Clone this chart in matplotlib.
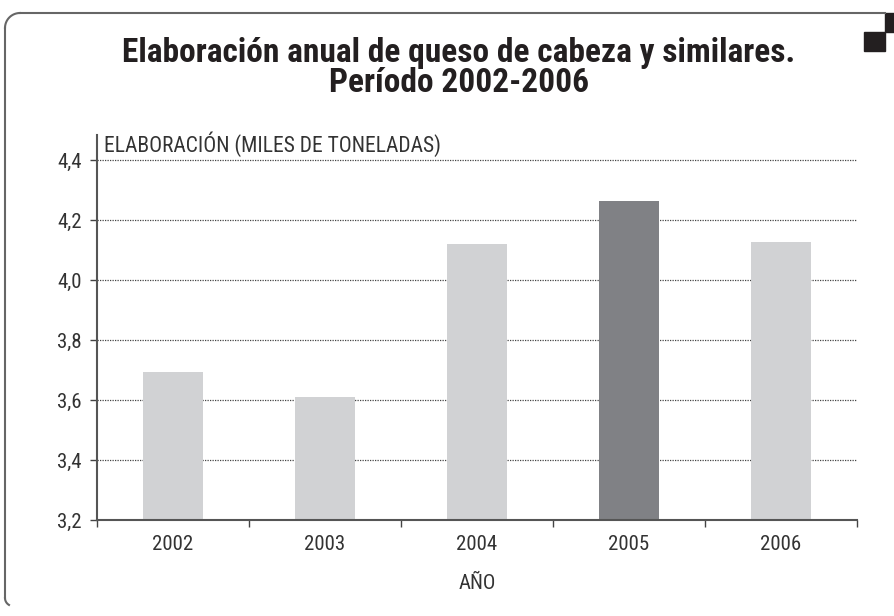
import matplotlib
matplotlib.use("Agg")
import matplotlib.pyplot as plt
import numpy as np
from matplotlib import font_manager
from matplotlib.patches import Rectangle

# datos
anios = ["2002", "2003", "2004", "2005", "2006"]
elaboracion = [3.693, 3.610, 4.120, 4.263, 4.127]
colores = ["#d1d2d4", "#d1d2d4", "#d1d2d4", "#808185", "#d1d2d4"]
yticks = [3.2, 3.4, 3.6, 3.8, 4.0, 4.2, 4.4]

# fuente angosta (tipo Helvetica Condensed)
nombres = {f.name for f in font_manager.fontManager.ttflist}
fuente = "Liberation Sans"
for cand in ["Roboto Condensed", "Archivo Narrow", "Barlow Condensed", "Asap Condensed"]:
    if cand in nombres:
        fuente = cand
        break
plt.rcParams["font.family"] = [fuente, "DejaVu Sans"]

gris = "#333333"
fig = plt.figure(figsize=(8.94, 6.16), dpi=100)

def fx(px):
    return px / 894

def fy(py):
    return 1 - py / 616

# marco del recuadro
borde = "#666666"
fig.add_artist(plt.Line2D([fx(5), fx(5)], [fy(28), fy(598)], color=borde, lw=1.5))
fig.add_artist(plt.Line2D([fx(20), fx(885)], [fy(13), fy(13)], color=borde, lw=1.5))
t = np.linspace(0, np.pi/2, 20)
fig.add_artist(plt.Line2D(fx(20 - 15*np.cos(t)), fy(28 - 15*np.sin(t)), color=borde, lw=1.5))
t2 = np.linspace(0, np.pi/3, 10)
fig.add_artist(plt.Line2D(fx(5 + 8*(1-np.cos(t2))), fy(598 + 8*np.sin(t2)), color=borde, lw=1.5))
fig.add_artist(Rectangle((fx(864), fy(51)), fx(21), 19/616, transform=fig.transFigure, color="#231f20"))
fig.add_artist(Rectangle((fx(885), fy(32)), fx(9), 19/616, transform=fig.transFigure, color="#231f20"))

# titulo
fig.text(fx(459), fy(62), "Elaboración anual de queso de cabeza y similares.",
         ha="center", va="baseline", fontsize=24, fontweight=900, color="#231f20")
fig.text(fx(459), fy(92), "Período 2002-2006",
         ha="center", va="baseline", fontsize=24, fontweight=900, color="#231f20")

ax = fig.add_axes([fx(97), 96/616, (857-97)/894, (520-135)/616])
x = np.arange(len(anios))
ax.bar(x, elaboracion, width=0.4, color=colores, zorder=2)
ax.set_xlim(-0.5, 4.5)
ax.set_ylim(3.2, 3.2 + 385/300)
ax.set_yticks(yticks)
ax.set_yticklabels([f"{v:.1f}".replace(".", ",") for v in yticks])
ax.set_xticks(x)
ax.set_xticklabels(anios)
ax.set_xticks(np.arange(-0.5, 5, 1), minor=True)
ax.tick_params(axis="x", which="major", length=0, pad=11, labelsize=15, labelcolor=gris)
ax.tick_params(axis="x", which="minor", length=5, width=1, color="#444444")
ax.tick_params(axis="y", length=5, width=1, color="#444444", pad=6, labelsize=15, labelcolor=gris)
for yv in yticks[1:]:
    ax.axhline(yv, color="#444444", lw=0.9, ls=(0, (1, 1)), zorder=1)
for s in ["top", "right"]:
    ax.spines[s].set_visible(False)
for s in ["left", "bottom"]:
    ax.spines[s].set_color("#555555")
    ax.spines[s].set_linewidth(1.5)
ax.text(fx(104 - 97) / ((857-97)/894), 4.41, "ELABORACIÓN (MILES DE TONELADAS)",
        transform=ax.get_yaxis_transform(), ha="left", va="bottom", fontsize=15.5, color=gris)
ax.set_xlabel("AÑO", fontsize=15, color=gris, labelpad=14)

fig.savefig("out.png", dpi=100)
